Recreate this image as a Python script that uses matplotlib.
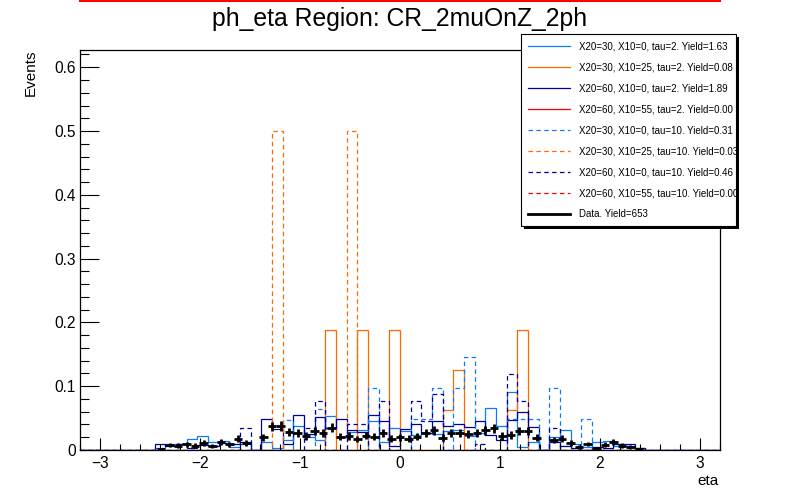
import numpy as np
import matplotlib
matplotlib.use("Agg")
import matplotlib.pyplot as plt
from matplotlib.lines import Line2D
from matplotlib.patches import Rectangle
from matplotlib.ticker import MultipleLocator, FuncFormatter

plt.rcParams['font.family'] = ['Liberation Sans', 'DejaVu Sans']

# ---------------- data ----------------
eta_lo, eta_hi = -3.2, 3.2
n_sig_bins = 60
sig_first_bin = 7          # first listed bin of the dense signal lists

blue_solid = [0.003, 0.009, 0.009, 0.018, 0.0214, 0.012, 0.014, 0.004, 0.010, 0.0,
              0.013, 0.003, 0.0157, 0.0376, 0.021, 0.016, 0.053, 0.020, 0.028, 0.031,
              0.0455, 0.012, 0.034, 0.030, 0.023, 0.026, 0.025, 0.030, 0.031, 0.022,
              0.026, 0.0653, 0.037, 0.0914, 0.005, 0.012, 0.0, 0.020, 0.031, 0.0089,
              0.005, 0.012, 0.0146, 0.0068, 0.0068, 0.0026]
navy_solid = [0.009, 0.007, 0.009, 0.003, 0.008, 0.007, 0.0105, 0.010, 0.012, 0.0,
              0.0486, 0.0324, 0.010, 0.0543, 0.025, 0.051, 0.034, 0.048, 0.031, 0.028,
              0.0543, 0.045, 0.0063, 0.033, 0.040, 0.026, 0.045, 0.037, 0.040, 0.0355,
              0.045, 0.0235, 0.0157, 0.047, 0.059, 0.036, 0.0, 0.012, 0.0068, 0.0026,
              0.0, 0.005, 0.0026, 0.0089, 0.0089, 0.0026]

orange_bins = [23, 26, 29, 34, 35, 40, 41]
orange_vals = [0.1875, 0.1875, 0.1875, 0.0625, 0.125, 0.0625, 0.1875]
orange_dash_bins = [18, 25]
orange_dash_vals = [0.5, 0.5]
blue_dash_bins = [19, 22, 27, 31, 32, 33, 35, 36, 40, 41, 42, 44, 47]
blue_dash_vals = [0.047, 0.065, 0.0967, 0.0486, 0.0486, 0.0967, 0.0967, 0.146,
                  0.0486, 0.0486, 0.0486, 0.0967, 0.0486]
navy_dash_bins = [15, 21, 22, 25, 26, 28, 31, 32, 33, 37, 40, 41, 44]
navy_dash_vals = [0.034, 0.034, 0.0768, 0.040, 0.040, 0.0768, 0.0768, 0.046,
                  0.087, 0.010, 0.119, 0.0768, 0.034]

n_data_bins = 75
data_first_bin = 9         # bin index of the first listed data value
data_vals = [0.002, 0.008, 0.007, 0.009, 0.007, 0.011, 0.006, 0.013, 0.009, 0.018,
             0.011, 0.0, 0.020, 0.037, 0.038, 0.028, 0.027, 0.022, 0.030, 0.026,
             0.035, 0.021, 0.022, 0.017, 0.0225, 0.021, 0.027, 0.018, 0.020, 0.018,
             0.021, 0.026, 0.031, 0.019, 0.026, 0.026, 0.0245, 0.026, 0.031, 0.034,
             0.022, 0.0235, 0.030, 0.030, 0.0195, 0.0, 0.0157, 0.018, 0.011, 0.005,
             0.0094, 0.003, 0.0085, 0.0125, 0.007, 0.005, 0.0015]
data_yield = 653

labels = ["X20=30, X10=0, tau=2. Yield=1.63",
          "X20=30, X10=25, tau=2. Yield=0.08",
          "X20=60, X10=0, tau=2. Yield=1.89",
          "X20=60, X10=55, tau=2. Yield=0.00",
          "X20=30, X10=0, tau=10. Yield=0.31",
          "X20=30, X10=25, tau=10. Yield=0.03",
          "X20=60, X10=0, tau=10. Yield=0.46",
          "X20=60, X10=55, tau=10. Yield=0.00",
          "Data. Yield=653"]
title = "ph_eta Region: CR_2muOnZ_2ph"

# ---------------- build histograms ----------------
edges = np.linspace(eta_lo, eta_hi, n_sig_bins + 1)

def dense(vals):
    h = np.zeros(n_sig_bins)
    h[sig_first_bin:sig_first_bin + len(vals)] = vals
    return h

def sparse(bins, vals):
    h = np.zeros(n_sig_bins)
    h[np.array(bins)] = vals
    return h

C_BLUE = '#0a7cff'
C_ORANGE = '#ff6a00'
C_NAVY = '#000099'
C_RED = '#ff0000'
DASH = (0, (3.6, 2.7))

W, H = 800, 500
fig = plt.figure(figsize=(8, 5), dpi=100)
ax = fig.add_axes([0.1, 0.1, 0.8, 0.8])

lw = 0.9
series = [
    (dense(blue_solid), C_BLUE, '-'),
    (sparse(orange_bins, orange_vals), C_ORANGE, '-'),
    (dense(navy_solid), C_NAVY, '-'),
    (sparse(blue_dash_bins, blue_dash_vals), C_BLUE, DASH),
    (sparse(orange_dash_bins, orange_dash_vals), C_ORANGE, DASH),
    (sparse(navy_dash_bins, navy_dash_vals), C_NAVY, DASH),
]
for h, c, ls in series:
    ax.stairs(h, edges, color=c, lw=lw, linestyle=ls, baseline=0)

# data
dedges = np.linspace(eta_lo, eta_hi, n_data_bins + 1)
dcent = 0.5 * (dedges[:-1] + dedges[1:])
half = 0.5 * (dedges[1] - dedges[0])
dv = np.array(data_vals)
dx = dcent[data_first_bin:data_first_bin + len(dv)]
mask = dv > 0
derr = np.sqrt(dv[mask] / data_yield)
ax.errorbar(dx[mask], dv[mask], xerr=half, yerr=derr, fmt='none',
            ecolor='black', elinewidth=2, capsize=0, zorder=5)

ax.set_xlim(eta_lo, eta_hi)
ax.set_ylim(0, 0.627)

ax.xaxis.set_major_locator(MultipleLocator(1))
ax.xaxis.set_minor_locator(MultipleLocator(0.2))
ax.yaxis.set_major_locator(MultipleLocator(0.1))
ax.yaxis.set_minor_locator(MultipleLocator(0.02))
ax.yaxis.set_major_formatter(FuncFormatter(lambda v, p: '%g' % round(v, 3)))
ax.xaxis.set_major_formatter(FuncFormatter(lambda v, p: ('%g' % v).replace('-', '\u2212')))

ax.tick_params(which='both', direction='in', top=False, right=False, width=0.8,
               labelsize=11.2)
ax.tick_params(axis='x', which='major', length=8.6, pad=4)
ax.tick_params(axis='x', which='minor', length=4.3)
ax.tick_params(axis='y', which='major', length=13.7, pad=3)
ax.tick_params(axis='y', which='minor', length=6.8)
for s in ax.spines.values():
    s.set_linewidth(0.9)

fig.text(0.5, 1 - 26 / H, title, ha='center', va='baseline', fontsize=17.8)
fig.text(31 / W, 1 - 50 / H, 'Events', rotation=90, ha='center', va='top', fontsize=11)
fig.text(719 / W, 15 / H, 'eta', ha='right', va='baseline', fontsize=11)

# legend box (ROOT TLegend style: fixed box with a thin black shadow)
lx0, lx1, ly0, ly1 = 521, 736, 34, 226      # pixel box, top-down
fig.add_artist(Rectangle(((lx0 + 2.5) / W, 1 - (ly1 + 2.5) / H), (lx1 - lx0) / W,
                         (ly1 - ly0) / H, transform=fig.transFigure,
                         facecolor='black', edgecolor='none', zorder=9))
fig.add_artist(Rectangle((lx0 / W, 1 - ly1 / H), (lx1 - lx0) / W, (ly1 - ly0) / H,
                         transform=fig.transFigure, facecolor='white',
                         edgecolor='black', lw=0.8, zorder=9.5))

handles = [
    Line2D([], [], color=C_BLUE, lw=lw),
    Line2D([], [], color=C_ORANGE, lw=lw),
    Line2D([], [], color=C_NAVY, lw=lw),
    Line2D([], [], color=C_RED, lw=lw),
    Line2D([], [], color=C_BLUE, lw=lw, linestyle=DASH),
    Line2D([], [], color=C_ORANGE, lw=lw, linestyle=DASH),
    Line2D([], [], color=C_NAVY, lw=lw, linestyle=DASH),
    Line2D([], [], color=C_RED, lw=lw, linestyle=DASH),
    Line2D([], [], color='black', lw=2),
]
leg = fig.legend(handles, labels, loc='upper left', bbox_to_anchor=(lx0 / W, 1 - ly0 / H),
                 fontsize=7.0, handlelength=4.3, handletextpad=0.9, labelspacing=1.13,
                 borderpad=0.75, borderaxespad=0, frameon=False)
leg.set_zorder(10)

# red line at the top of the canvas
fig.add_artist(Line2D([80 / W, 720 / W], [0.998, 0.998], color=C_RED, lw=1.5,
                      transform=fig.transFigure))

fig.savefig('out.png', dpi=100)
